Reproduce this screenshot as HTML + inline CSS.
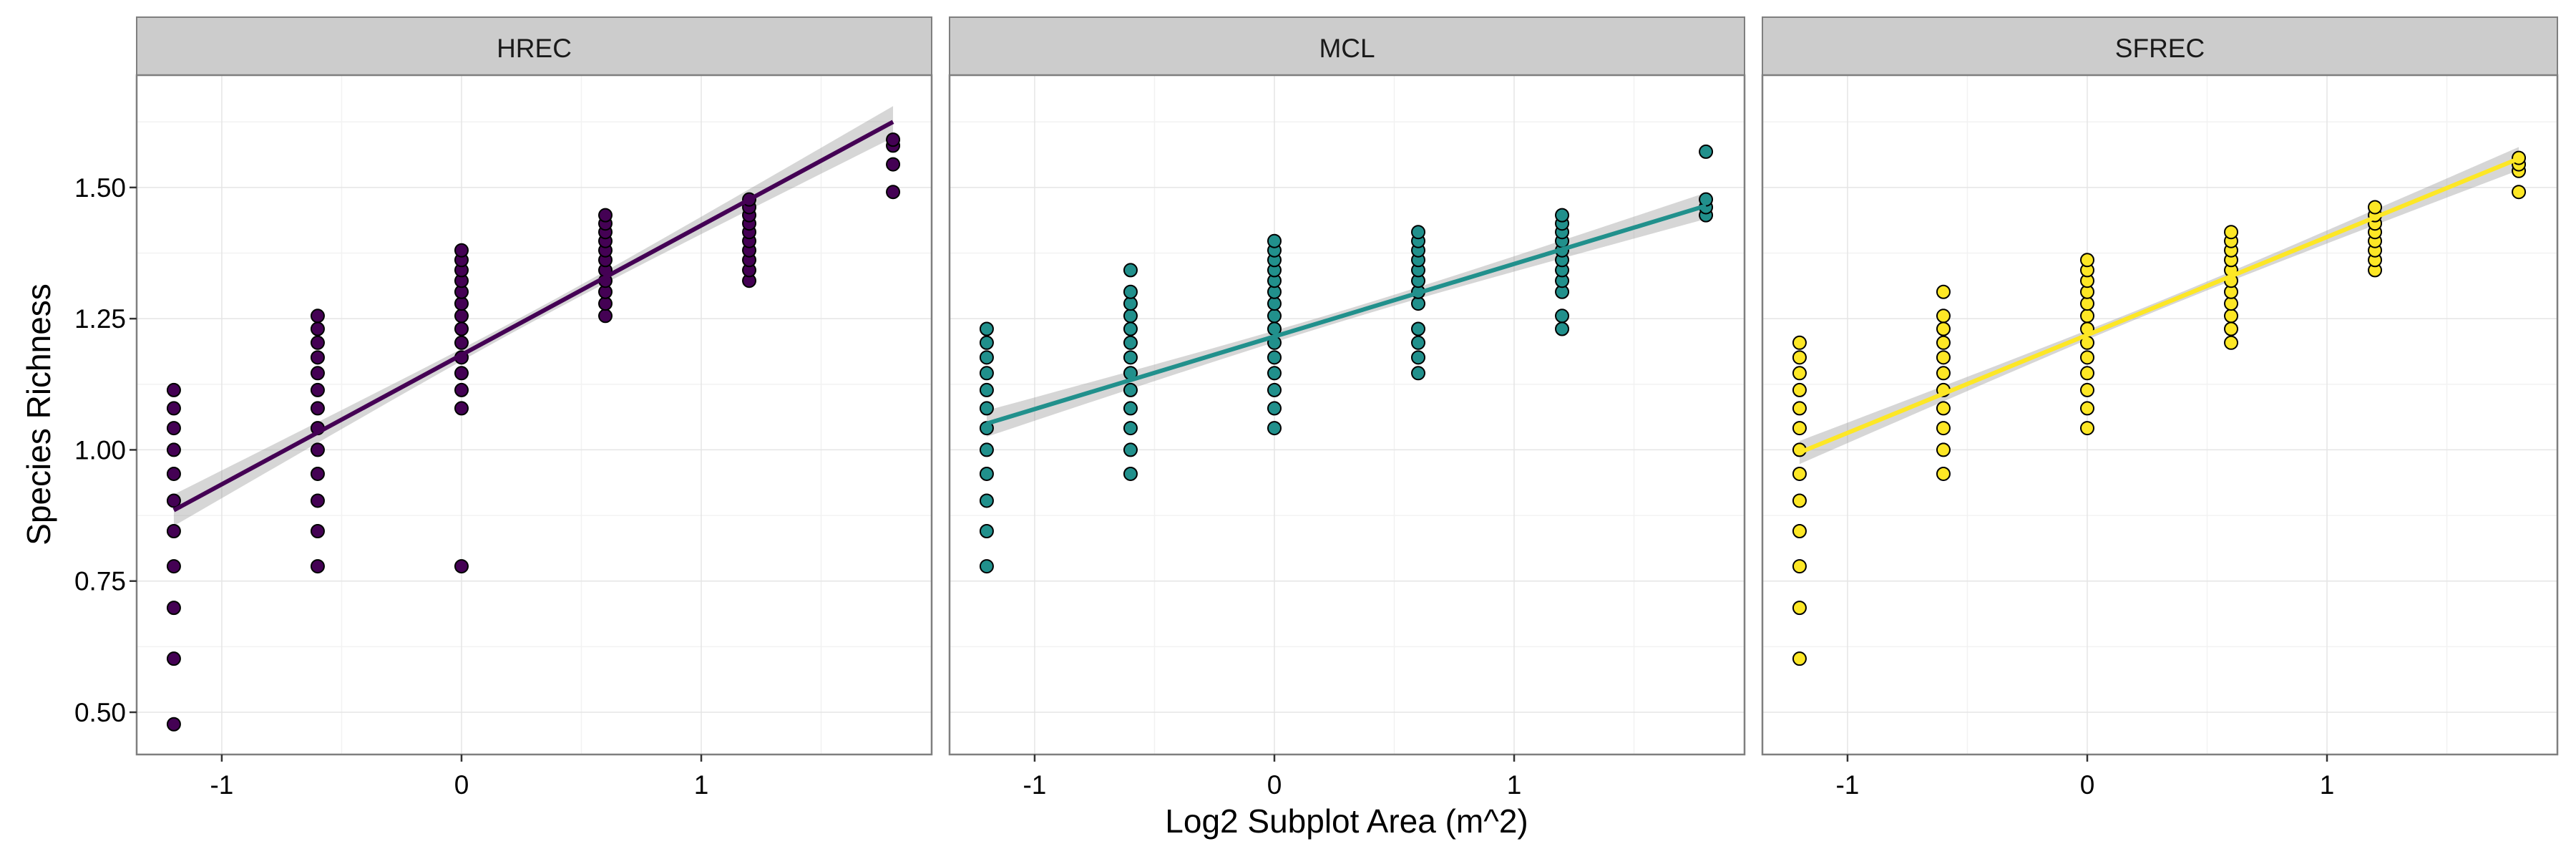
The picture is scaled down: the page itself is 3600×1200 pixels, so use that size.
<!DOCTYPE html>
<html><head><meta charset="utf-8">
<style>
html,body{margin:0;padding:0;background:#fff;}
svg{display:block;font-family:"Liberation Sans",Arial,sans-serif;}
</style></head>
<body>
<svg id="chart" width="3600" height="1200" viewBox="0 0 3600 1200" xmlns="http://www.w3.org/2000/svg">
<text x="0" y="0" transform="translate(70,579) rotate(-90)" text-anchor="middle" font-size="46" fill="#000">Species Richness</text>
<text x="1882" y="1163" text-anchor="middle" font-size="46" fill="#000">Log2 Subplot Area (m^2)</text>
</svg>
<script>
const panelNames = ["HREC", "MCL", "SFREC"];
const panelColors = ["#440154", "#21908C", "#FDE725"];
const xLevels = [-1.2, -0.6, 0, 0.6, 1.2, 1.8];
// species counts per x level (y = log10(count))
const hrecCounts = [
  [3,4,5,6,7,8,9,10,11,12,13],
  [6,7,8,9,10,11,12,13,14,15,16,17,18],
  [6,12,13,14,15,16,17,18,19,20,21,22,23,24],
  [18,19,20,21,22,23,24,25,26,27,28],
  [21,22,23,24,25,26,27,28,29,30],
  [31,35,38,39]
];
const mclCounts = [
  [6,7,8,9,10,11,12,13,14,15,16,17],
  [9,10,11,12,13,14,15,16,17,18,19,20,22],
  [11,12,13,14,15,16,17,18,19,20,21,22,23,24,25],
  [14,15,16,17,19,20,21,22,23,24,25,26],
  [17,18,20,21,22,23,24,25,26,27,28],
  [28,29,30,37]
];
const sfrecCounts = [
  [4,5,6,7,8,9,10,11,12,13,14,15,16],
  [9,10,11,12,13,14,15,16,17,18,20],
  [11,12,13,14,15,16,17,18,19,20,21,22,23],
  [16,17,18,19,20,21,22,23,24,25,26],
  [22,23,24,25,26,27,28,29],
  [31,34,35,36]
];
const fitStart = [0.885, 1.050, 0.995];
const fitEnd = [1.625, 1.465, 1.555];
const bandHalfMin = [0.010, 0.010, 0.008];
const bandHalfEnd = [0.030, 0.025, 0.022];
const xTicks = [-1, 0, 1];
const xTickLabels = ["-1", "0", "1"];
const yTicks = [0.5, 0.75, 1.0, 1.25, 1.5];
const yTickLabels = ["0.50", "0.75", "1.00", "1.25", "1.50"];
const xMinor = [-0.5, 0.5, 1.5];
const yMinor = [0.625, 0.875, 1.125, 1.375, 1.625];

const NS = "http://www.w3.org/2000/svg";
const svg = document.getElementById("chart");
const panelLeft = [191, 1327, 2463];
const panelW = 1111, plotTop = 105, plotBottom = 1054, stripTop = 24;
const xMin = -1.355, xMax = 1.961, yMin = 0.4195, yMax = 1.714;
function mk(tag, attrs, parent){const e=document.createElementNS(NS,tag);for(const k in attrs)e.setAttribute(k,attrs[k]);(parent||svg).appendChild(e);return e;}
const allCounts = [hrecCounts, mclCounts, sfrecCounts];

panelNames.forEach((name, p) => {
  const L = panelLeft[p];
  const sx = v => L + (v - xMin) / (xMax - xMin) * panelW;
  const sy = v => plotBottom - (v - yMin) / (yMax - yMin) * (plotBottom - plotTop);
  const g = mk("g", {});
  
  
  const strip = mk("rect", {x:L, y:stripTop, width:panelW, height:plotTop-stripTop, fill:"#cccccc", stroke:"#7f7f7f", "stroke-width":2}, g);
  
  
  const st = mk("text", {x:L+panelW/2, y:80, "text-anchor":"middle", "font-size":37, fill:"#1a1a1a"}, g);
  st.textContent = name;
  
  
  mk("rect", {x:L, y:plotTop, width:panelW, height:plotBottom-plotTop, fill:"#fff"}, g);
  xMinor.forEach(v => mk("line", {x1:sx(v), x2:sx(v), y1:plotTop, y2:plotBottom, stroke:"#f2f2f2", "stroke-width":1.5}, g));
  yMinor.forEach(v => mk("line", {x1:L, x2:L+panelW, y1:sy(v), y2:sy(v), stroke:"#f2f2f2", "stroke-width":1.5}, g));
  xTicks.forEach(v => mk("line", {x1:sx(v), x2:sx(v), y1:plotTop, y2:plotBottom, stroke:"#e5e5e5", "stroke-width":1.5}, g));
  yTicks.forEach(v => mk("line", {x1:L, x2:L+panelW, y1:sy(v), y2:sy(v), stroke:"#e5e5e5", "stroke-width":1.5}, g));
  const x0 = xLevels[0], x1 = xLevels[xLevels.length-1], xm = (x0+x1)/2;
  const fit = x => fitStart[p] + (fitEnd[p]-fitStart[p]) * (x - x0) / (x1 - x0);
  const half = x => { const t = (x - xm) / (x1 - xm); return Math.sqrt(bandHalfMin[p]**2 + (bandHalfEnd[p]**2 - bandHalfMin[p]**2) * t * t); };
  let up = [], lo = [];
  for (let i = 0; i <= 30; i++) { const x = x0 + (x1-x0)*i/30; up.push(sx(x)+","+sy(fit(x)+half(x))); lo.unshift(sx(x)+","+sy(fit(x)-half(x))); }
  const band = mk("polygon", {points: up.concat(lo).join(" "), fill:"#999", "fill-opacity":0.4}, g);
  
  
  allCounts[p].forEach((arr, i) => {
    arr.forEach(c => {
      const pt = mk("circle", {cx:sx(xLevels[i]), cy:sy(Math.log10(c)), r:9, fill:panelColors[p], stroke:"#000", "stroke-width":2}, g);
      
      
    });
  });
  const ln = mk("line", {x1:sx(x0), y1:sy(fitStart[p]), x2:sx(x1), y2:sy(fitEnd[p]), stroke:panelColors[p], "stroke-width":6}, g);
  
  
  mk("rect", {x:L, y:plotTop, width:panelW, height:plotBottom-plotTop, fill:"none", stroke:"#7f7f7f", "stroke-width":2.5}, g);
  xTicks.forEach((v, i) => {
    mk("line", {x1:sx(v), x2:sx(v), y1:plotBottom, y2:plotBottom+10, stroke:"#333", "stroke-width":2.5}, g);
    const t = mk("text", {x:sx(v), y:1109, "text-anchor":"middle", "font-size":37, fill:"#000"}, g);
    t.textContent = xTickLabels[i];
    
    
  });
  if (p === 0) {
    yTicks.forEach((v, i) => {
      mk("line", {x1:L-10, x2:L, y1:sy(v), y2:sy(v), stroke:"#333", "stroke-width":2.5}, g);
      const t = mk("text", {x:L-15, y:sy(v)+13, "text-anchor":"end", "font-size":37, fill:"#000"}, g);
      t.textContent = yTickLabels[i];
      
      
    });
  }
});
</script>
</body></html>
